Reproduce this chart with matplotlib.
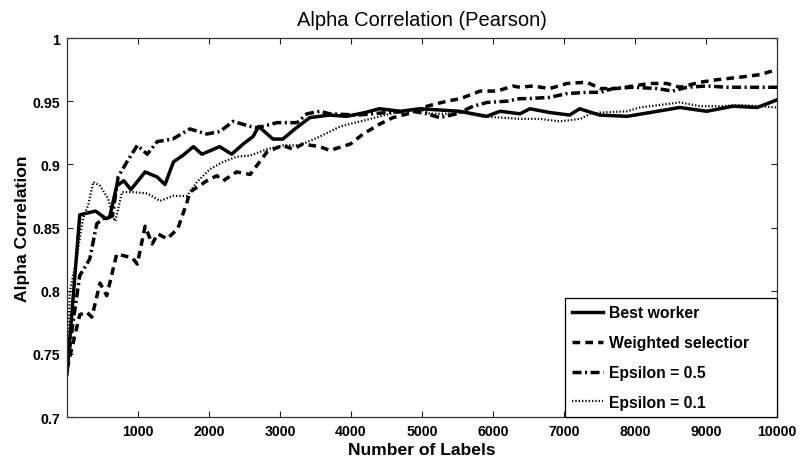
import matplotlib
matplotlib.use("Agg")
import matplotlib.pyplot as plt
from matplotlib.ticker import FixedLocator

plt.rcParams['font.family'] = ['Liberation Sans', 'DejaVu Sans']

title = "Alpha Correlation (Pearson)"
xlabel = "Number of Labels"
ylabel = "Alpha Correlation"
labels = ["Best worker", "Weighted selectior", "Epsilon = 0.5", "Epsilon = 0.1"]

best_x = [0, 180, 400, 550, 600, 700, 800, 900, 1100, 1270, 1380, 1500, 1630, 1780, 1900,
          2150, 2320, 2480, 2620, 2700, 2900, 3040, 3210, 3420, 3700, 3940, 4200, 4400, 4700,
          4970, 5530, 5910, 6100, 6380, 6520, 6800, 7080, 7220, 7500, 7890, 8210, 8630,
          9010, 9380, 9720, 10000]
best_y = [0.734, 0.860, 0.863, 0.857, 0.858, 0.883, 0.887, 0.880, 0.894, 0.890, 0.884, 0.902,
          0.907, 0.914, 0.908, 0.914, 0.908, 0.916, 0.922, 0.930, 0.920, 0.920, 0.928, 0.937,
          0.939, 0.938, 0.941, 0.944, 0.942, 0.944, 0.942, 0.938, 0.942, 0.940, 0.944, 0.941,
          0.939, 0.944, 0.939, 0.938, 0.941, 0.945, 0.942, 0.946, 0.945, 0.951]

wsel_x = [0, 180, 280, 350, 465, 560, 700, 920, 990, 1100, 1200, 1280, 1410, 1560, 1690,
          1730, 1970, 2110, 2200, 2390, 2580, 2820, 3040, 3180, 3320, 3560, 3700, 3990, 4170,
          4410, 4590, 4870, 5070, 5350, 5540, 5820, 6060, 6280, 6380, 6560, 6800, 7040, 7320,
          7510, 7750, 7970, 8210, 8450, 8630, 8920, 9160, 9480, 9760, 10000]
wsel_y = [0.738, 0.781, 0.783, 0.779, 0.806, 0.796, 0.829, 0.826, 0.821, 0.851, 0.837, 0.845,
          0.841, 0.849, 0.870, 0.878, 0.887, 0.891, 0.887, 0.894, 0.892, 0.910, 0.915, 0.912,
          0.916, 0.914, 0.911, 0.916, 0.924, 0.932, 0.937, 0.941, 0.946, 0.950, 0.952, 0.958,
          0.958, 0.962, 0.961, 0.962, 0.960, 0.964, 0.965, 0.960, 0.960, 0.962, 0.964, 0.964,
          0.961, 0.965, 0.967, 0.969, 0.971, 0.975]

eps5_x = [0, 85, 180, 320, 420, 510, 640, 720, 845, 990, 1130, 1270, 1490, 1730, 1970, 2155,
          2340, 2580, 2680, 2960, 3240, 3380, 3560, 3700, 4100, 4500, 4870, 5070, 5250, 5490,
          5720, 5920, 6200, 6380, 6480, 6800, 7040, 7320, 7510, 7690, 7970, 8310, 8530, 8730,
          9010, 9300, 9580, 10000]
eps5_y = [0.738, 0.775, 0.812, 0.825, 0.853, 0.857, 0.859, 0.890, 0.902, 0.915, 0.908, 0.918,
          0.920, 0.928, 0.924, 0.926, 0.934, 0.930, 0.929, 0.933, 0.933, 0.940, 0.942, 0.940,
          0.939, 0.941, 0.942, 0.940, 0.937, 0.940, 0.946, 0.949, 0.950, 0.952, 0.952, 0.953,
          0.956, 0.957, 0.957, 0.960, 0.961, 0.960, 0.958, 0.961, 0.962, 0.961, 0.961, 0.961]

eps1_x = [0, 40, 140, 225, 300, 370, 465, 577, 650, 680, 775, 930, 1130, 1310, 1490, 1690,
          1830, 2010, 2200, 2390, 2580, 2820, 3040, 3280, 3560, 3850, 4130, 4410, 4690, 4970,
          5110, 5350, 5580, 5820, 6100, 6380, 6660, 6940, 7230, 7370, 7510, 7890, 8070, 8350,
          8630, 8920, 9200, 9480, 9760, 10000]
eps1_y = [0.738, 0.799, 0.827, 0.857, 0.868, 0.886, 0.883, 0.873, 0.858, 0.855, 0.878, 0.878,
          0.877, 0.871, 0.875, 0.875, 0.886, 0.896, 0.902, 0.906, 0.907, 0.912, 0.915, 0.915,
          0.922, 0.930, 0.934, 0.938, 0.942, 0.944, 0.940, 0.940, 0.941, 0.938, 0.937, 0.936,
          0.936, 0.934, 0.936, 0.940, 0.941, 0.942, 0.945, 0.947, 0.949, 0.946, 0.946, 0.947,
          0.946, 0.945]

xticks = [1000, 2000, 3000, 4000, 5000, 6000, 7000, 8000, 9000, 10000]
yticks = [0.7, 0.75, 0.8, 0.85, 0.9, 0.95, 1.0]
ytick_labels = ["0.7", "0.75", "0.8", "0.85", "0.9", "0.95", "1"]

fig = plt.figure(figsize=(8.0, 4.64), dpi=100)
ax = fig.add_axes([67/800, 46/464, 710/800, 379/464])

ax.plot(best_x, best_y, color='black', lw=2.5, linestyle='-', label=labels[0])
ax.plot(wsel_x, wsel_y, color='black', lw=2.5, linestyle=(0, (2.2, 1.5)), label=labels[1])
ax.plot(eps5_x, eps5_y, color='black', lw=2.5, linestyle=(0, (2.6, 1.0, 0.6, 1.0)), label=labels[2])
ax.plot(eps1_x, eps1_y, color='black', lw=1.6, linestyle=(0, (0.6, 0.9)), label=labels[3])

ax.set_xlim(0, 10000)
ax.set_ylim(0.7, 1.0)
ax.xaxis.set_major_locator(FixedLocator(xticks))
ax.set_xticklabels([str(t) for t in xticks])
ax.yaxis.set_major_locator(FixedLocator(yticks))
ax.set_yticklabels(ytick_labels)

ax.tick_params(direction='in', length=4.5, width=0.8, top=True, right=True,
               labelsize=10.2, pad=5, colors='#222222', labelcolor='black')
for lab in ax.get_xticklabels() + ax.get_yticklabels():
    lab.set_fontweight('bold')
for s in ax.spines.values():
    s.set_linewidth(0.9)
    s.set_color('#333333')

ax.set_title(title, fontsize=14.5, pad=9)
ax.set_xlabel(xlabel, fontsize=12.6, fontweight='bold', labelpad=3)
ax.set_ylabel(ylabel, fontsize=12.6, fontweight='bold', labelpad=2)

x0 = (565 - 67) / 710
leg = ax.legend(loc='lower left', bbox_to_anchor=(x0, 0.0, 1.0 - x0, 0.3), mode='expand',
                borderaxespad=0, fancybox=False, framealpha=1, edgecolor='black',
                handlelength=2.0, handletextpad=0.35, labelspacing=0.95, borderpad=0.45,
                prop={'weight': 'bold', 'size': 11.3})
leg.get_frame().set_linewidth(0.9)

fig.savefig("out.png", dpi=100)
